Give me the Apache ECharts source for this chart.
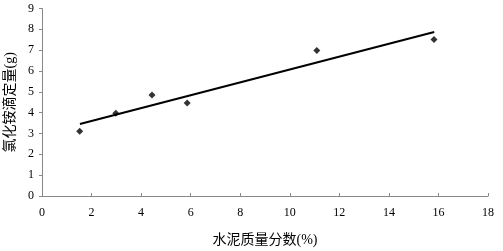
<!DOCTYPE html>
<html><head><meta charset="utf-8">
<script src="https://cdn.jsdelivr.net/npm/echarts@6/dist/echarts.min.js"></script>
<style>html,body{margin:0;padding:0;background:#fff}#c{width:503px;height:251px}</style>
</head><body><div id="c"></div>
<script>
const xValues = [1.52, 2.98, 4.44, 5.86, 11.09, 15.82];
const yValues = [3.11, 3.97, 4.85, 4.47, 6.99, 7.51];
const trendX = [1.53, 15.83];
const trendY = [3.46, 7.87];
const xName = '水泥质量分数(%)';
const yName = '氯化铵滴定量(g)';
const font = "'Liberation Serif', 'Noto Sans CJK SC', serif";
const chart = echarts.init(document.getElementById('c'));
chart.setOption({
  animation: false,
  backgroundColor: '#fff',
  grid: { left: 42, right: 15, top: 8.5, bottom: 55, containLabel: false, outerBoundsMode: 'none' },
  xAxis: {
    type: 'value', min: 0, max: 18, interval: 2,
    name: xName, nameLocation: 'middle', nameGap: 37,
    nameTextStyle: { fontFamily: font, fontSize: 14, color: '#000' },
    axisLine: { show: true, lineStyle: { color: '#888', width: 1 } },
    axisTick: { show: true, inside: true, length: 3, lineStyle: { color: '#888' } },
    axisLabel: { fontFamily: font, fontSize: 12, color: '#000', margin: 11 },
    splitLine: { show: false }
  },
  yAxis: {
    type: 'value', min: 0, max: 9, interval: 1,
    name: yName, nameLocation: 'middle', nameGap: 25, nameRotate: 90,
    nameTextStyle: { fontFamily: font, fontSize: 14, color: '#000' },
    axisLine: { show: true, lineStyle: { color: '#888', width: 1 } },
    axisTick: { show: true, length: 3, lineStyle: { color: '#888' } },
    axisLabel: { fontFamily: font, fontSize: 12, color: '#000', margin: 8 },
    splitLine: { show: false }
  },
  series: [
    {
      type: 'line',
      data: trendX.map((x, i) => [x, trendY[i]]),
      showSymbol: false, symbol: 'none',
      lineStyle: { color: '#000', width: 2 }
    },
    {
      type: 'scatter',
      data: xValues.map((x, i) => [x, yValues[i]]),
      symbol: 'diamond', symbolSize: 7,
      itemStyle: { color: '#000' }
    }
  ]
});
</script></body></html>
